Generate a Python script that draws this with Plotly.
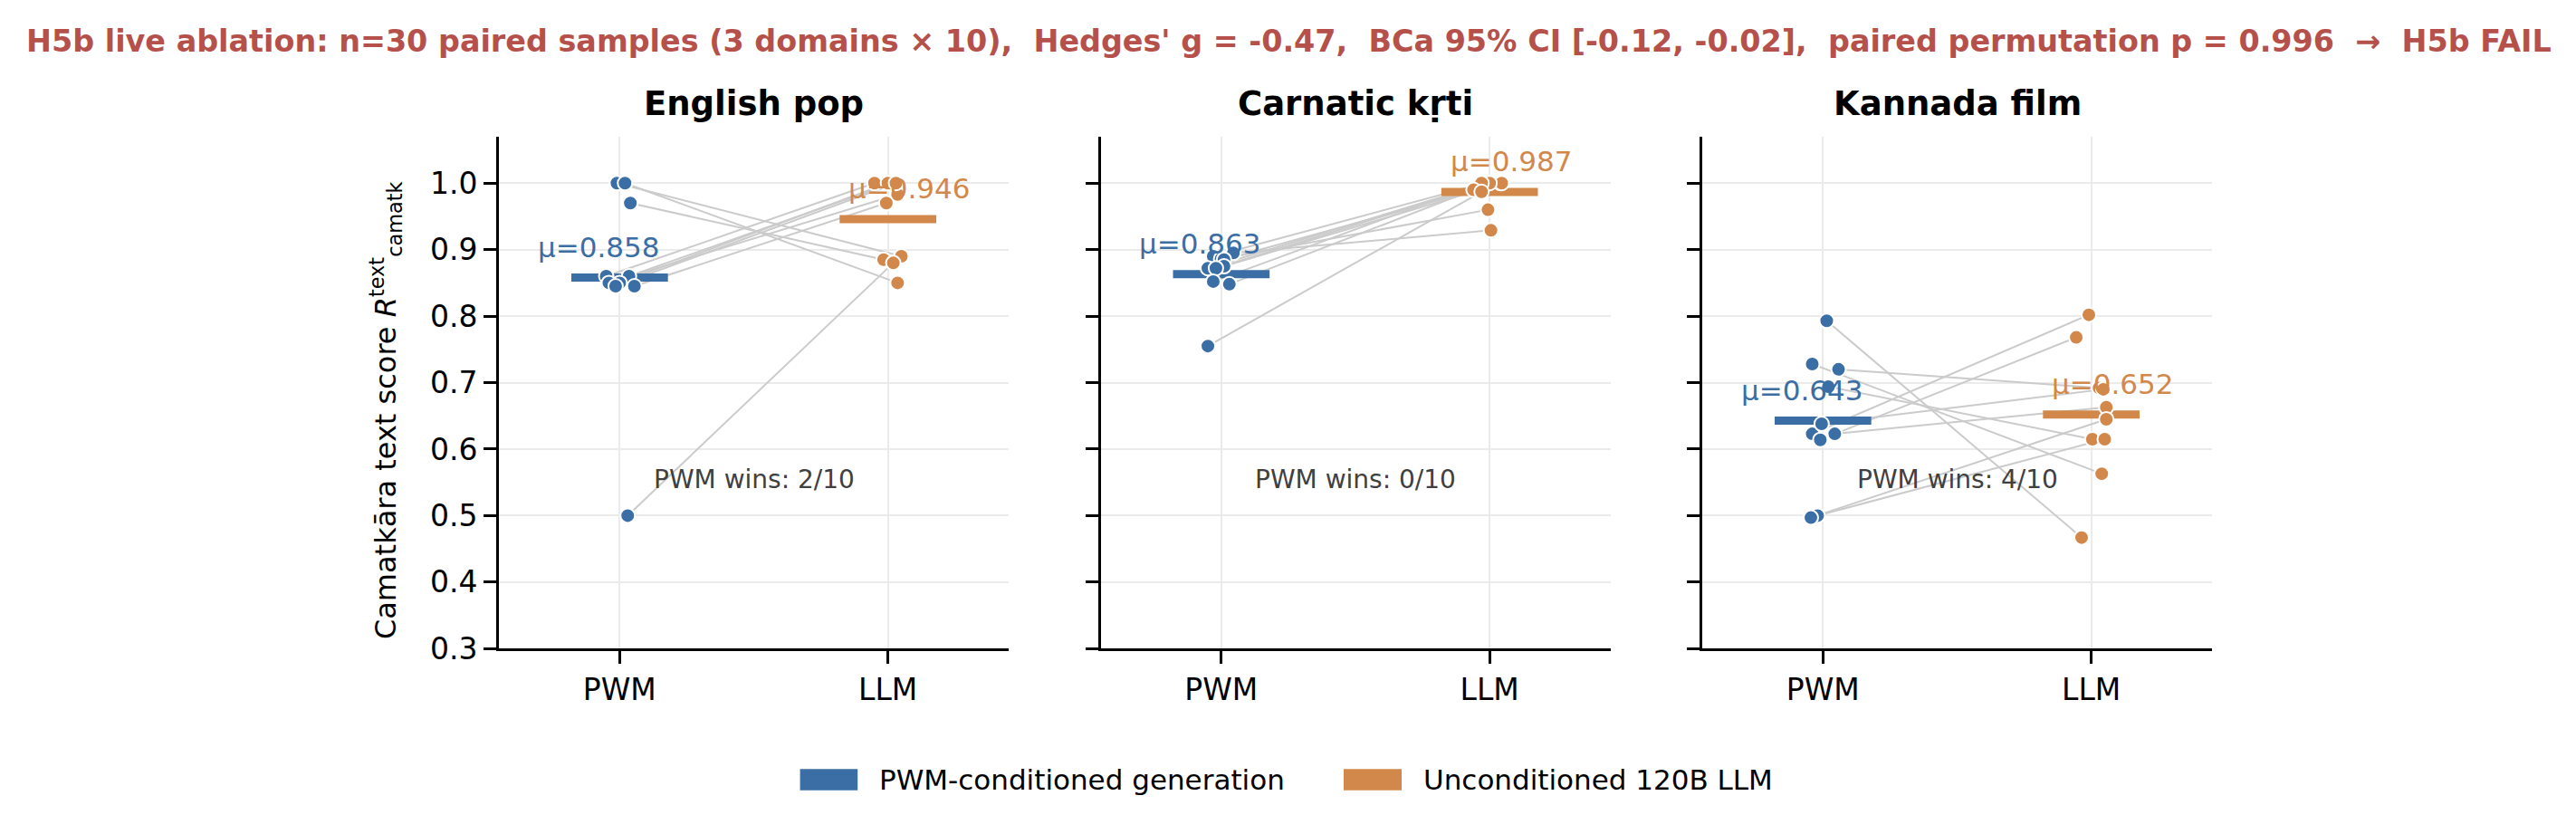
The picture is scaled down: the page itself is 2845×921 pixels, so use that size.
import plotly.graph_objects as go
from plotly.subplots import make_subplots

# --- data ---
domains = ["English pop", "Carnatic kṛti", "Kannada film"]
conditions = ["PWM", "LLM"]

# paired scores, index i of PWM pairs with index i of LLM
pwm_english = [1.0, 1.0, 0.97, 0.5, 0.86, 0.86, 0.85, 0.85, 0.845, 0.845]
llm_english = [0.89, 0.85, 0.885, 0.88, 1.0, 1.0, 0.983, 1.0, 0.97, 1.0]

pwm_carnatic = [0.895, 0.89, 0.886, 0.885, 0.875, 0.872, 0.872, 0.852, 0.848, 0.755]
llm_carnatic = [0.929, 1.0, 0.96, 1.0, 1.0, 1.0, 1.0, 1.0, 0.99, 0.987]

pwm_kannada = [0.793, 0.728, 0.72, 0.694, 0.623, 0.614, 0.638, 0.623, 0.5, 0.497]
llm_kannada = [0.467, 0.563, 0.692, 0.615, 0.802, 0.768, 0.69, 0.663, 0.615, 0.645]

# strip jitter offsets (category units), as seen in the picture
pwm_jitter = [
    [-0.01, 0.02, 0.04, 0.03, -0.05, 0.035, -0.04, 0.0, 0.055, -0.015],
    [0.045, -0.03, -0.001, 0.01, 0.01, -0.05, -0.02, -0.03, 0.03, -0.05],
    [0.014, -0.04, 0.058, 0.02, -0.04, -0.01, -0.005, 0.044, -0.02, -0.045],
]
llm_jitter = [
    [0.05, 0.036, -0.016, 0.02, -0.05, 0.015, 0.036, 0.0, -0.006, 0.03],
    [0.005, -0.02, -0.006, 0.04, 0.045, -0.01, 0.0, -0.03, -0.06, -0.03],
    [-0.036, 0.039, 0.029, 0.004, -0.009, -0.056, 0.045, 0.056, 0.05, 0.056],
]

pwm_wins = ["2/10", "0/10", "4/10"]

pwm_scores = [pwm_english, pwm_carnatic, pwm_kannada]
llm_scores = [llm_english, llm_carnatic, llm_kannada]

title_text = ("H5b live ablation: n=30 paired samples (3 domains × 10),  Hedges' g = -0.47,  "
              "BCa 95% CI [-0.12, -0.02],  paired permutation p = 0.996  →  H5b FAIL")
legend_names = ["PWM-conditioned generation", "Unconditioned 120B LLM"]

BLUE = "#3b6ea5"
ORANGE = "#d2884a"
FONT = "DejaVu Sans"

W, H = 2845, 921
XPAD = 8  # page margin pushes the figure right a little


def px(x):  # target pixel -> paper x
    return (x - XPAD) / W


def py(y):  # target pixel -> paper y
    return 1 - y / H


fig = make_subplots(rows=1, cols=3)

for k in range(3):
    col = k + 1
    pwm = pwm_scores[k]
    llm = llm_scores[k]
    xp = [0 + j for j in pwm_jitter[k]]
    xl = [1 + j for j in llm_jitter[k]]
    xref = "x" if k == 0 else "x%d" % col
    yref = "y" if k == 0 else "y%d" % col

    # paired connector lines
    for i in range(len(pwm)):
        fig.add_trace(go.Scatter(x=[xp[i], xl[i]], y=[pwm[i], llm[i]], mode="lines",
                                 line=dict(color="#cbcbcb", width=2),
                                 showlegend=False, hoverinfo="skip"), row=1, col=col)

    # mean bars + labels
    for ci, (vals, color) in enumerate([(pwm, BLUE), (llm, ORANGE)]):
        m = sum(vals) / len(vals)
        fig.add_trace(go.Scatter(x=[ci - 0.18, ci + 0.18], y=[m, m], mode="lines",
                                 line=dict(color=color, width=9),
                                 showlegend=False, hoverinfo="skip"), row=1, col=col)
        fig.add_annotation(x=ci + (-0.08 if ci == 0 else 0.08), y=m + 0.046,
                           xref=xref, yref=yref, text="μ=%.3f" % m, showarrow=False,
                           font=dict(family=FONT, size=31, color=color),
                           xanchor="center", yanchor="middle")

    # points
    fig.add_trace(go.Scatter(x=xp, y=pwm, mode="markers",
                             marker=dict(color=BLUE, size=16, line=dict(color="white", width=2)),
                             showlegend=False), row=1, col=col)
    fig.add_trace(go.Scatter(x=xl, y=llm, mode="markers",
                             marker=dict(color=ORANGE, size=16, line=dict(color="white", width=2)),
                             showlegend=False), row=1, col=col)

    fig.add_annotation(x=0.5, y=0.555, xref=xref, yref=yref, text="PWM wins: " + pwm_wins[k],
                       showarrow=False, font=dict(family=FONT, size=28, color="#404040"),
                       xanchor="center", yanchor="middle")

# panel geometry (pixels of the reference)
x_doms = [(551, 1114), (1215.5, 1778.5), (1880, 2443)]
y_dom = [py(724), py(146)]

for k in range(3):
    col = k + 1
    fig.update_xaxes(domain=[px(x_doms[k][0]), px(x_doms[k][1])], range=[-0.45, 1.45],
                     tickvals=[0, 1], ticktext=conditions, showgrid=True, gridcolor="#ebebeb",
                     gridwidth=2, zeroline=False, showline=True, linecolor="black", linewidth=3,
                     ticks="outside", ticklen=14, tickwidth=3, tickcolor="black",
                     tickfont=dict(family=FONT, size=33, color="black"), row=1, col=col)
    fig.update_yaxes(domain=y_dom, range=[0.3, 1.07], dtick=0.1, tick0=0.3, tickformat=".1f",
                     showgrid=True, gridcolor="#ebebeb", gridwidth=2, zeroline=False,
                     showline=True, linecolor="black", linewidth=3,
                     ticks="outside", ticklen=14, tickwidth=3, tickcolor="black",
                     showticklabels=(k == 0),
                     tickfont=dict(family=FONT, size=33, color="black"), row=1, col=col)
    # subplot titles
    fig.add_annotation(x=px((x_doms[k][0] + x_doms[k][1]) / 2), y=py(109),
                       xref="paper", yref="paper",
                       text="<b>%s</b>" % domains[k], showarrow=False,
                       font=dict(family=FONT, size=37, color="black"),
                       xanchor="center", yanchor="middle")

# suptitle
fig.add_annotation(x=px(1423), y=py(38), xref="paper", yref="paper",
                   text="<b>%s</b>" % title_text,
                   showarrow=False, font=dict(family=FONT, size=33.4, color="#b5514a"),
                   xanchor="center", yanchor="middle")

# y-axis label
fig.add_annotation(x=px(426), y=py(455), xref="paper", yref="paper", textangle=-90,
                   text="Camatkāra text score <i>R</i><sup>text</sup><sub>camatk</sub>",
                   showarrow=False, font=dict(family=FONT, size=32, color="black"),
                   xanchor="center", yanchor="middle")

# legend drawn as patches + labels
legend_patches = [(883.6, 947.2), (1484, 1548)]
for (x0, x1), color, name in zip(legend_patches, [BLUE, ORANGE], legend_names):
    fig.add_shape(type="rect", xref="paper", yref="paper", x0=px(x0), x1=px(x1),
                  y0=py(884), y1=py(860), fillcolor=color, line=dict(width=0))
    fig.add_annotation(x=px(x1 + 22), y=py(872), xref="paper", yref="paper", text=name,
                       showarrow=False, font=dict(family=FONT, size=31, color="black"),
                       xanchor="left", yanchor="middle")

fig.update_layout(width=W, height=H, margin=dict(l=0, r=0, t=0, b=0),
                  paper_bgcolor="white", plot_bgcolor="white", showlegend=False,
                  font=dict(family=FONT))

fig.write_html("out.html")
